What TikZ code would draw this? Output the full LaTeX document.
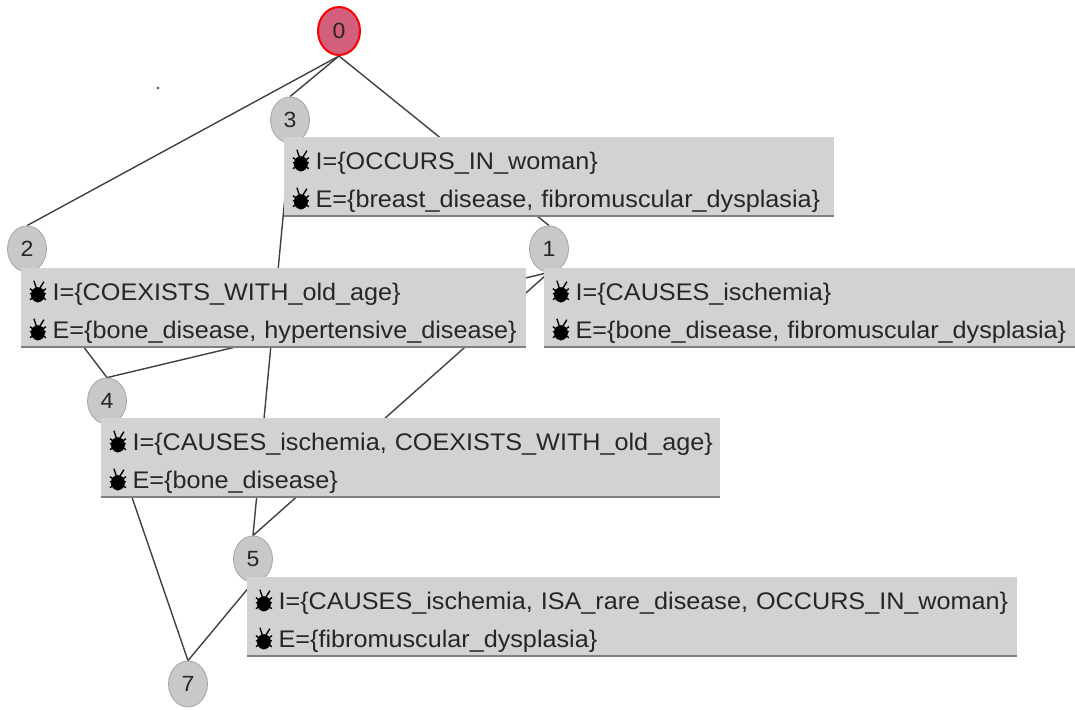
\documentclass[tikz,border=0pt]{standalone}
\usepackage{fontspec}
\setmainfont[FakeStretch=1.05]{Liberation Sans}
\usetikzlibrary{backgrounds,shapes.geometric}
\definecolor{conceptgray}{HTML}{D2D2D2}
\definecolor{topred}{HTML}{D25F7C}
\definecolor{nodegray}{HTML}{C8C8C8}
\definecolor{inkgray}{HTML}{262626}
\newcommand{\bugicon}{\tikz[baseline=1pt,x=1pt,y=1pt]{\fill[black] (8,7) ellipse (7 and 7.5);
    \fill[black] (8,-1)--(4,3)--(12,3)--cycle;
    \draw[black,line width=1.4pt] (0,8)--(16,8) (0,2)--(16,13) (0,13)--(16,2) (7,12)--(4,21) (9,12)--(14,20);}}
\newcommand{\intent}[1]{\rule{0pt}{29pt}\mbox{\bugicon\hspace{6pt}I=\{#1\}}}
\newcommand{\extent}[1]{\mbox{\bugicon\hspace{6pt}E=\{#1\}}}
\tikzset{
  latticenode/.style={shape=ellipse,inner sep=0pt,minimum width=39pt,minimum height=46pt,font=\fontsize{22}{24}\selectfont,fill=nodegray,draw=gray!70,line width=0.8pt,text=inkgray},
  conceptbox/.style={anchor=north west,fill=conceptgray,inner xsep=8pt,inner ysep=0pt,align=left,
    font=\fontsize{24}{38}\selectfont,text=inkgray,minimum height=79pt,
    append after command={(\tikzlastnode.south west) edge[gray,line width=2pt] (\tikzlastnode.south east)}},
  latticeline/.style={draw=black!75,line width=1.4pt}
}
\begin{document}
\begin{tikzpicture}[x=1pt,y=-1pt]
\useasboundingbox (0,0) rectangle (1075,709);
\fill[black!70] (158,88) circle (1.3);
% lattice nodes
\node[latticenode,fill=topred,draw=red,line width=2pt,minimum width=42pt,minimum height=48pt] (n0) at (339,31) {0};
\node[latticenode] (n3) at (290,120) {3};
\node[latticenode] (n2) at (27,249) {2};
\node[latticenode] (n1) at (549,249) {1};
\node[latticenode] (n4) at (107,401) {4};
\node[latticenode] (n5) at (253,559) {5};
\node[latticenode] (n7) at (188,684) {7};
% connectors go under the nodes
\begin{scope}[on background layer]
\draw[latticeline] (n0.south)--(n2.north);
\draw[latticeline] (n0.south)--(n3.north);
\draw[latticeline] (n0.south)--(n1.north);
\draw[latticeline] (n3.south)--(n5.north);
\draw[latticeline] (n1.south)--(n4.north);
\draw[latticeline] (n1.south)--(n5.north);
\draw[latticeline] (n2.south)--(n4.north);
\draw[latticeline] (n4.south)--(n7.north);
\draw[latticeline] (n5.south)--(n7.north);
\end{scope}
% concept boxes
\node[conceptbox,text width=534pt] (box3) at (284,137) {\intent{OCCURS\_IN\_woman}\\\extent{breast\_disease, fibromuscular\_dysplasia}};
\node[conceptbox,text width=489pt] (box2) at (21,268) {\intent{COEXISTS\_WITH\_old\_age}\\\extent{bone\_disease, hypertensive\_disease}};
\node[conceptbox,text width=515pt] (box1) at (544,268) {\intent{CAUSES\_ischemia}\\\extent{bone\_disease, fibromuscular\_dysplasia}};
\node[conceptbox,text width=603pt] (box4) at (101,418) {\intent{CAUSES\_ischemia, COEXISTS\_WITH\_old\_age}\\\extent{bone\_disease}};
\node[conceptbox,text width=754pt] (box5) at (247,577) {\intent{CAUSES\_ischemia, ISA\_rare\_disease, OCCURS\_IN\_woman}\\\extent{fibromuscular\_dysplasia}};
\end{tikzpicture}
\end{document}
